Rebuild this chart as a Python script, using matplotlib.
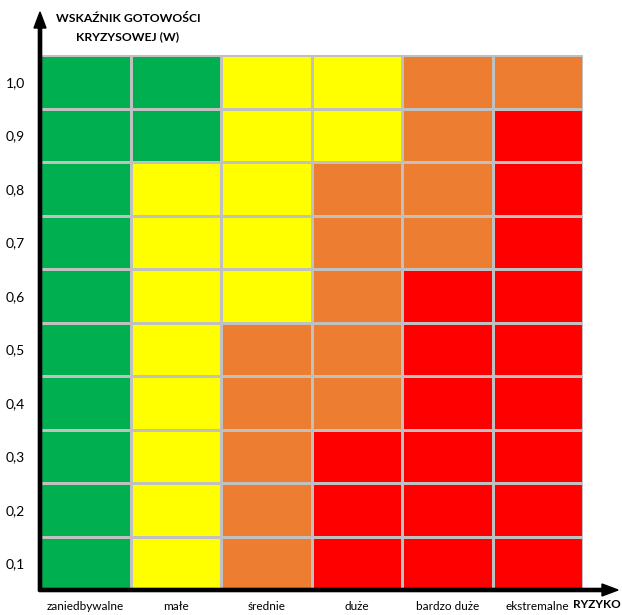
import matplotlib
matplotlib.use("Agg")
import matplotlib.pyplot as plt
from matplotlib.colors import ListedColormap
import numpy as np

plt.rcParams['font.family'] = ['Lato', 'DejaVu Sans']

categories = ['zaniedbywalne', 'małe', 'średnie', 'duże', 'bardzo duże', 'ekstremalne']
y_labels = ['0,1', '0,2', '0,3', '0,4', '0,5', '0,6', '0,7', '0,8', '0,9', '1,0']
# risk level codes: 0 green, 1 yellow, 2 orange, 3 red ; rows from 0,1 (bottom) to 1,0 (top)
levels = [
    [0, 1, 2, 3, 3, 3],  # 0,1
    [0, 1, 2, 3, 3, 3],  # 0,2
    [0, 1, 2, 3, 3, 3],  # 0,3
    [0, 1, 2, 2, 3, 3],  # 0,4
    [0, 1, 2, 2, 3, 3],  # 0,5
    [0, 1, 1, 2, 3, 3],  # 0,6
    [0, 1, 1, 2, 2, 3],  # 0,7
    [0, 1, 1, 2, 2, 3],  # 0,8
    [0, 0, 1, 1, 2, 3],  # 0,9
    [0, 0, 1, 1, 2, 2],  # 1,0
]
colors = ['#00B050', '#FFFF00', '#ED7D31', '#FF0000']

W, H = 622, 615
fig = plt.figure(figsize=(W / 100, H / 100), dpi=100)
L, R, T, B = 40, 583, 55, 590
ax = fig.add_axes([L / W, 1 - B / H, (R - L) / W, (B - T) / H])

data = np.array(levels)
ax.pcolormesh(np.arange(7), np.arange(11), data, cmap=ListedColormap(colors),
              vmin=-0.5, vmax=3.5, edgecolors='#C0C0C0', linewidth=0.8)
ax.set_xlim(0, 6)
ax.set_ylim(0, 10)
for s in ax.spines.values():
    s.set_visible(False)
ax.set_xticks(np.arange(6) + 0.5)
ax.set_xticklabels(categories, fontsize=8.5)
ax.set_yticks(np.arange(10) + 0.5)
ax.set_yticklabels(y_labels, fontsize=10)
ax.tick_params(length=0)
ax.tick_params(axis='x', pad=8)
ax.tick_params(axis='y', pad=11)

# axis arrows in figure pixels
def fx(px):
    return px / W
def fy(py):
    return 1 - py / H

fig.patches.append(matplotlib.patches.FancyArrow(
    fx(40), fy(591), 0, fy(12) - fy(591), width=3.2 / H, head_width=12 / W,
    head_length=16 / H, length_includes_head=True, color='black',
    transform=fig.transFigure, figure=fig))
fig.patches.append(matplotlib.patches.FancyArrow(
    fx(39), fy(590), fx(618) - fx(39), 0, width=3.2 / H, head_width=12 / H,
    head_length=16 / W, length_includes_head=True, color='black',
    transform=fig.transFigure, figure=fig))

fig.text(fx(128), fy(18), 'WSKAŹNIK GOTOWOŚCI', ha='center', va='center',
         fontsize=8.7, fontweight='bold')
fig.text(fx(128), fy(37), 'KRYZYSOWEJ (W)', ha='center', va='center',
         fontsize=8.7, fontweight='bold')
fig.text(fx(621), fy(604), 'RYZYKO', ha='right', va='center',
         fontsize=8.5, fontweight='bold')

fig.savefig('out.png', dpi=100)
